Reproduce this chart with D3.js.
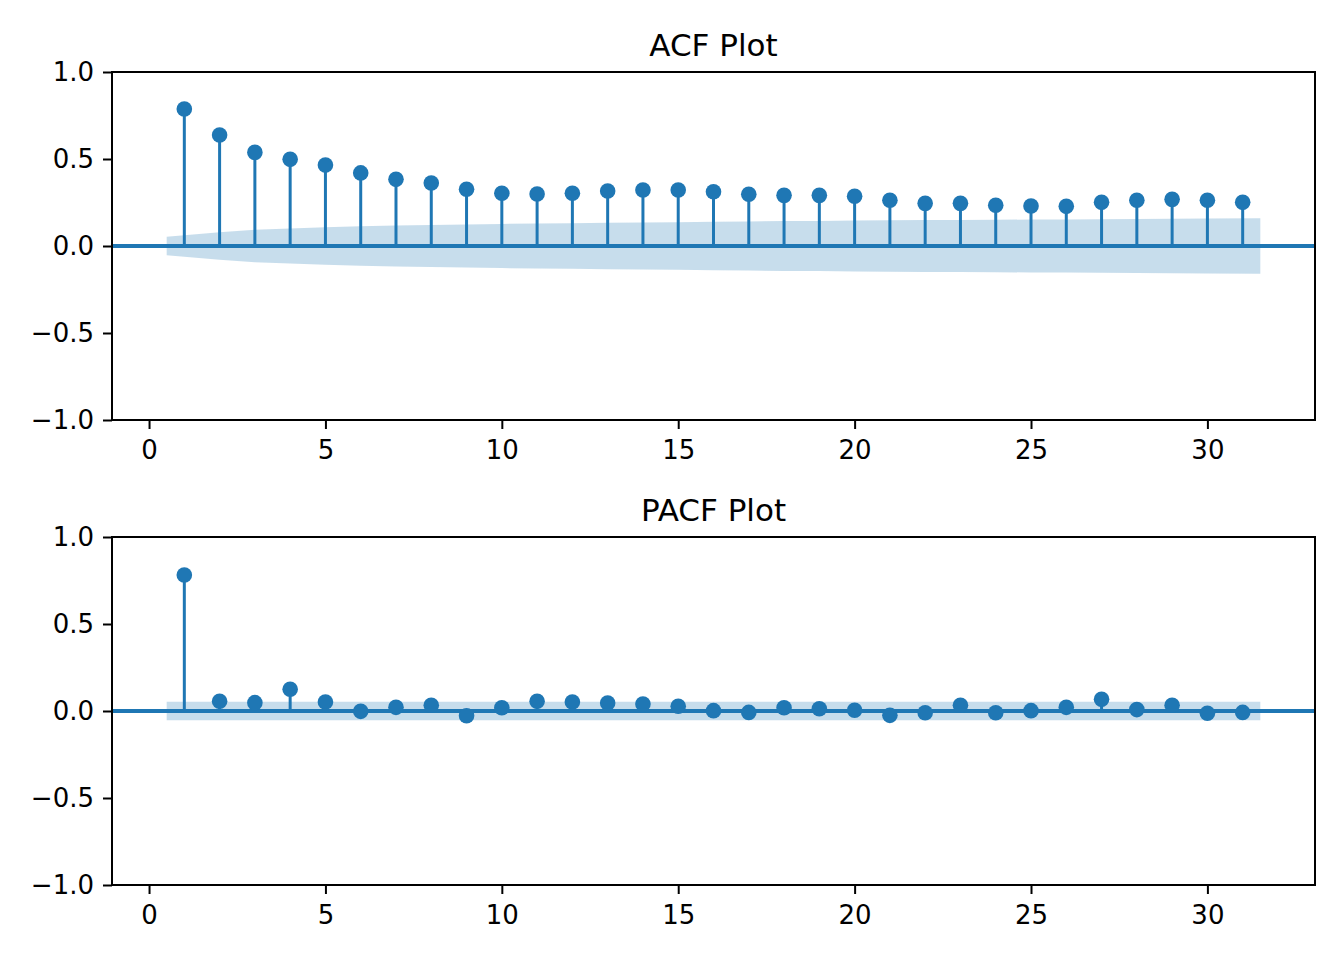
<!DOCTYPE html>
<html>
<head>
<meta charset="utf-8">
<script src="https://cdn.jsdelivr.net/npm/d3@7"></script>
<style>
  body { margin: 0; background: #fff; }
  svg { display: block; font-family: "DejaVu Sans", sans-serif; }
</style>
</head>
<body>
<div class="visualizations"></div>
<script>
// lags 1..31 (lag 0 not plotted)
var lags = d3.range(1, 32);
var acfValues = [0.787, 0.638, 0.538, 0.498, 0.465, 0.420, 0.383, 0.362, 0.326, 0.303,
  0.299, 0.303, 0.316, 0.322, 0.322, 0.312, 0.297, 0.291, 0.291, 0.286,
  0.263, 0.245, 0.245, 0.234, 0.230, 0.228, 0.251, 0.263, 0.268, 0.263, 0.251];
// half width of the 95% band around zero, one per lag
var acfBand = [0.053, 0.079, 0.093, 0.101, 0.108, 0.113, 0.118, 0.121, 0.124, 0.127,
  0.129, 0.131, 0.133, 0.135, 0.137, 0.139, 0.141, 0.143, 0.144, 0.146,
  0.148, 0.149, 0.150, 0.151, 0.152, 0.153, 0.154, 0.155, 0.156, 0.158, 0.159];
var pacfValues = [0.782, 0.056, 0.048, 0.125, 0.052, -0.002, 0.021, 0.033, -0.027, 0.019,
  0.056, 0.052, 0.046, 0.040, 0.027, 0.002, -0.008, 0.019, 0.013, 0.004,
  -0.025, -0.010, 0.033, -0.010, 0.002, 0.021, 0.067, 0.008, 0.033, -0.013, -0.008];
var pacfBand = [0.053, 0.053, 0.053, 0.053, 0.053, 0.053, 0.053, 0.053, 0.053, 0.053,
  0.053, 0.053, 0.053, 0.053, 0.053, 0.053, 0.053, 0.053, 0.053, 0.053,
  0.053, 0.053, 0.053, 0.053, 0.053, 0.053, 0.053, 0.053, 0.053, 0.053, 0.053];
var xTicks = [0, 5, 10, 15, 20, 25, 30];
var yTicks = [-1.0, -0.5, 0.0, 0.5, 1.0];

var width = 1344, height = 960;
var blue = "#1f77b4";

var svg = d3.select(".visualizations").append("svg")
  .attr("width", width).attr("height", height);

function panel(title, values, band, top, bottom) {
  var left = 112, right = 1315;
  var x = d3.scaleLinear().domain([-1.05, 33.05]).range([left, right]);
  var y = d3.scaleLinear().domain([-1, 1]).range([bottom, top]);
  var g = svg.append("g");

  // confidence band, drawn from half a lag before the first to half after the last
  var bandPts = lags.map(function(l, i) {
    var lx = l;
    if (i === 0) lx = l - 0.5;
    if (i === lags.length - 1) lx = l + 0.5;
    return { x: lx, h: band[i] };
  });
  g.append("path").datum(bandPts)
    .attr("d", d3.area()
      .x(function(d) { return x(d.x); })
      .y0(function(d) { return y(-d.h); })
      .y1(function(d) { return y(d.h); }))
    .style("fill", blue).style("fill-opacity", 0.25).style("stroke", "none");

  g.selectAll(".stem").data(lags).enter().append("line")
    .attr("x1", function(d) { return x(d); }).attr("x2", function(d) { return x(d); })
    .attr("y1", y(0)).attr("y2", function(d, i) { return y(values[i]); })
    .style("stroke", blue).style("stroke-width", 3);

  g.append("line")
    .attr("x1", left).attr("x2", right).attr("y1", y(0)).attr("y2", y(0))
    .style("stroke", blue).style("stroke-width", 3.9);

  g.selectAll(".dot").data(lags).enter().append("circle")
    .attr("cx", function(d) { return x(d); })
    .attr("cy", function(d, i) { return y(values[i]); })
    .attr("r", 7.8).style("fill", blue);

  var xAxis = d3.axisBottom(x).tickValues(xTicks).tickSize(9).tickPadding(12)
    .tickFormat(d3.format("d"));
  var yAxis = d3.axisLeft(y).tickValues(yTicks).tickSize(9).tickPadding(9)
    .tickFormat(function(d) { return d3.format(".1f")(d).replace("-", "\u2212"); });

  var gx = g.append("g").attr("transform", "translate(0," + bottom + ")").call(xAxis);
  var gy = g.append("g").attr("transform", "translate(" + left + ",0)").call(yAxis);
  [gx, gy].forEach(function(a) {
    a.select(".domain").remove();
    a.selectAll(".tick line").style("stroke", "#000").style("stroke-width", 2);
    a.selectAll(".tick text").style("font-size", "26px").style("fill", "#000")
      .style("font-family", "DejaVu Sans");
  });

  g.append("rect")
    .attr("x", left).attr("y", top).attr("width", right - left).attr("height", bottom - top)
    .style("fill", "none").style("stroke", "#000").style("stroke-width", 2);

  g.append("text")
    .attr("x", (left + right) / 2).attr("y", top - 16)
    .attr("text-anchor", "middle")
    .style("font-size", "31px").style("fill", "#000")
    .text(title);
}

panel("ACF Plot", acfValues, acfBand, 72, 420);
panel("PACF Plot", pacfValues, pacfBand, 537, 885);
</script>
</body>
</html>
